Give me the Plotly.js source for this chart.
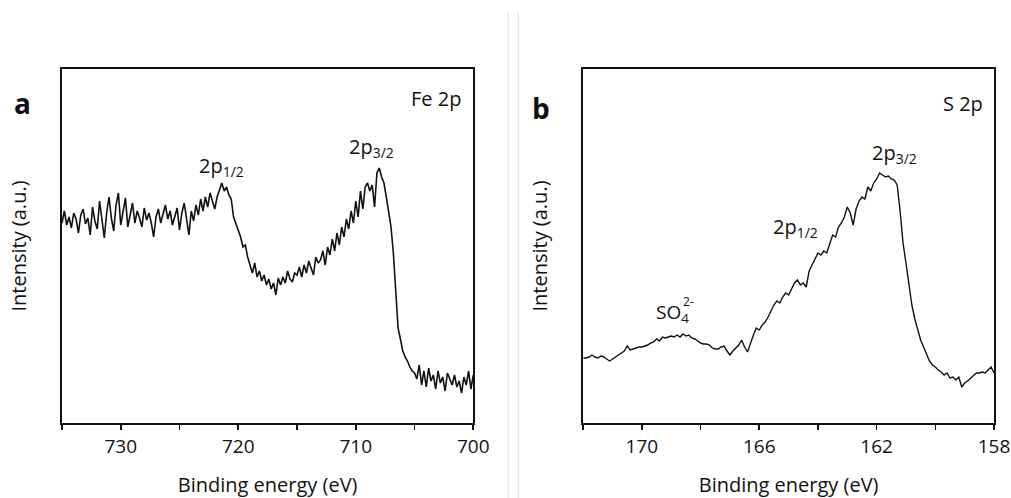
<!DOCTYPE html>
<html>
<head>
<meta charset="utf-8">
<script src="https://cdn.plot.ly/plotly-3.0.1.min.js"></script>
<style>
  html, body { margin: 0; padding: 0; background: #fff; }
  #chart { width: 1011px; height: 498px; }
</style>
</head>
<body>
<div id="chart"></div>
<script>
// ---------- DATA ----------
// Panel a: Fe 2p, binding energy from 735.0 eV to 700.0 eV, 0.2 eV sampling
const feStart = 735.0;
const feStep = -0.2;
const feIntensity = [
  200,212,198,206,195,210,204,190,208,214,
  199,205,188,216,202,194,222,200,185,210,
  226,205,192,218,230,198,214,225,196,208,
  220,200,212,205,196,215,203,210,200,186,
  206,214,200,209,218,204,212,198,207,215,
  193,210,220,204,188,212,202,218,208,224,
  212,226,216,230,222,214,226,234,240,232,
  236,228,224,206,200,194,186,176,178,166,
  158,150,160,146,152,142,148,138,144,134,
  140,128,145,138,146,140,152,144,141,150,
  148,156,146,158,150,162,155,148,166,160,
  163,172,158,176,168,184,172,190,178,196,
  186,204,194,212,200,222,206,232,214,236,
  240,232,238,216,250,255,246,240,226,210,
  196,170,130,95,84,72,66,62,56,52,
  50,44,58,38,52,36,55,42,48,34,
  52,40,46,32,50,44,38,48,36,42,
  30,46,38,52,34,48
];

// Panel b: S 2p, binding energy from 172.0 eV to 158.0 eV, 0.1 eV sampling
const sStart = 172.0;
const sStep = -0.1;
const sIntensity = [
  65,65,66,68,66,65,67,66,64,62,
  64,66,68,70,72,77,73,74,75,76,
  76,77,78,80,81,84,82,86,85,86,
  87,86,88,86,89,87,88,85,84,82,
  80,79,79,78,75,74,74,76,77,72,
  68,72,75,78,83,76,71,80,88,95,
  93,98,101,106,112,118,122,120,126,130,
  128,134,140,143,138,140,136,152,158,164,
  170,168,172,170,180,188,186,196,200,206,
  216,210,198,214,222,226,224,236,232,240,
  244,250,248,246,247,244,243,238,212,180,
  160,140,118,104,92,83,76,68,62,58,
  56,53,51,48,50,45,46,43,46,36,
  40,42,45,48,50,50,51,50,53,56,
  50
];

const feTicks = [730, 720, 710, 700];
const sTicks = [170, 166, 162, 158];

const feEnergy = feIntensity.map((_, i) => +(feStart + i * feStep).toFixed(2));
const sEnergy = sIntensity.map((_, i) => +(sStart + i * sStep).toFixed(2));

// ---------- LAYOUT HELPERS ----------
const W = 1011, H = 498;
const M = { l: 61.5, r: 17, t: 69, b: 75 };
const PW = W - M.l - M.r, PH = H - M.t - M.b;
const px = x => (x - M.l) / PW;          // pixel x -> paper
const py = y => (H - M.b - y) / PH;      // pixel y -> paper

const FONT = 'Open Sans, Liberation Sans, Arial, sans-serif';
const black = '#111';

const traces = [
  { x: feEnergy, y: feIntensity, type: 'scatter', mode: 'lines',
    line: { color: black, width: 1.6 }, xaxis: 'x', yaxis: 'y', hoverinfo: 'x+y' },
  { x: sEnergy, y: sIntensity, type: 'scatter', mode: 'lines',
    line: { color: black, width: 1.4 }, xaxis: 'x2', yaxis: 'y2', hoverinfo: 'x+y' }
];

const commonX = {
  showline: true, linecolor: black, linewidth: 1.8, mirror: true,
  ticks: 'outside', ticklen: 5, tickwidth: 1.6, tickcolor: black,
  showgrid: false, zeroline: false,
  tickfont: { family: FONT, size: 19, color: black },
  title: { text: 'Binding energy (eV)', font: { family: FONT, size: 20, color: black }, standoff: 20 }
};
const commonY = {
  showline: true, linecolor: black, linewidth: 1.8, mirror: true,
  ticks: '', showticklabels: false, showgrid: false, zeroline: false,
  range: [0, 354],
  title: { text: 'Intensity (a.u.)', font: { family: FONT, size: 20, color: black }, standoff: 28 }
};

const ann = (text, xref, yref, x, y, size) => ({
  text, xref, yref, x, y, showarrow: false,
  font: { family: FONT, size, color: black }
});

const layout = {
  width: W, height: H,
  margin: M,
  paper_bgcolor: '#fff', plot_bgcolor: '#fff',
  showlegend: false,
  xaxis: Object.assign({}, commonX, {
    domain: [0, px(473)], range: [735, 700], anchor: 'y',
    tickvals: feTicks,
    minor: { ticks: 'outside', ticklen: 5, tickwidth: 1.6, tickcolor: black, dtick: 5, tick0: 700, showgrid: false }
  }),
  yaxis: Object.assign({}, commonY, { domain: [0, 1], anchor: 'x' }),
  xaxis2: Object.assign({}, commonX, {
    domain: [px(583), 1], range: [172, 158], anchor: 'y2',
    tickvals: sTicks,
    minor: { ticks: 'outside', ticklen: 5, tickwidth: 1.6, tickcolor: black, dtick: 2, tick0: 158, showgrid: false }
  }),
  yaxis2: Object.assign({}, commonY, { domain: [0, 1], anchor: 'x2' }),
  shapes: [
    { type: 'line', xref: 'paper', yref: 'paper', x0: px(508), x1: px(508), y0: py(12), y1: py(498),
      line: { color: '#dcdcdc', width: 1 } },
    { type: 'line', xref: 'paper', yref: 'paper', x0: px(518), x1: px(518), y0: py(12), y1: py(498),
      line: { color: '#dcdcdc', width: 1 } }
  ],
  annotations: [
    ann('<b>a</b>', 'paper', 'paper', px(11), py(82), 28),
    ann('<b>b</b>', 'paper', 'paper', px(541), py(87), 28),
    ann('Fe 2p', 'x', 'y', 703.2, 325, 20),
    ann('S 2p', 'x2', 'y2', 159.06, 320, 20),
    ann('2p<sub>1/2</sub>', 'x', 'y', 721.4, 257, 20),
    ann('2p<sub>3/2</sub>', 'x', 'y', 708.7, 276, 20),
    ann('2p<sub>3/2</sub>', 'x2', 'y2', 161.38, 270, 20),
    ann('2p<sub>1/2</sub>', 'x2', 'y2', 164.78, 196, 20),
    ann('SO<sub>4</sub>', 'x2', 'y2', 168.95, 110, 19),
    ann('2-', 'x2', 'y2', 168.42, 122, 12)
  ]
};

Plotly.newPlot('chart', traces, layout, { displayModeBar: false, staticPlot: true });
</script>
</body>
</html>
